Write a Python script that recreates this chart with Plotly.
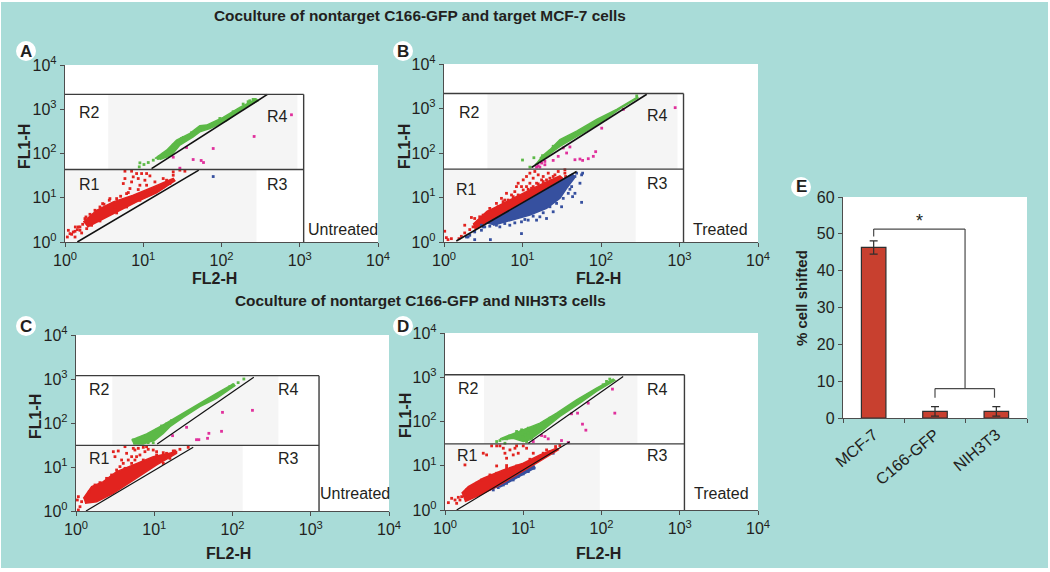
import numpy as np
import plotly.graph_objects as go

WIDTH = 1050
HEIGHT = 572
TEAL = "#a9dcd8"
INK = "#231f20"
AXIS = "#4d4d4d"
FONT = "Liberation Sans"

# flow cytometry readings, all stored as log10 of the channel value
# *_band_* are outlines of the solid clouds, the others the loose events around them

# panel A
a_green_band_x = [1.149, 1.298, 1.426, 1.596, 1.723, 1.809, 2.021, 2.234, 2.447, 2.468, 2.277, 2.064, 1.851, 1.723, 1.638, 1.468, 1.362, 1.213]
a_green_band_y = [1.887, 2.075, 2.302, 2.453, 2.626, 2.642, 2.815, 3.042, 3.230, 3.192, 3.019, 2.740, 2.566, 2.490, 2.377, 2.189, 1.962, 1.864]
a_green_x = [0.957, 1.009, 1.064, 0.949, 1.128, 1.191, 1.255, 1.362, 1.332, 1.489, 2.340, 2.404, 1.204, 1.277, 1.319, 1.383, 1.447, 1.511, 1.617, 1.723, 1.894, 1.979, 2.149, 2.277, 2.362, 2.426]
a_green_y = [1.789, 1.751, 1.796, 1.698, 1.849, 1.887, 1.985, 2.136, 2.060, 2.340, 3.170, 3.223, 1.925, 1.940, 2.038, 2.189, 2.264, 2.362, 2.468, 2.528, 2.679, 2.792, 2.943, 3.117, 3.192, 3.223]
a_red_band_x = [0.234, 0.404, 0.617, 0.872, 1.128, 1.383, 1.404, 1.170, 0.915, 0.660, 0.447, 0.285]
a_red_band_y = [0.453, 0.717, 0.906, 1.057, 1.245, 1.434, 1.381, 1.109, 0.906, 0.679, 0.491, 0.340]
a_red_x = [0.043, 0.064, 0.030, 0.106, 0.170, 0.128, 0.191, 0.255, 0.481, 0.574, 0.638, 0.745, 0.766, 0.851, 0.872, 0.915, 0.979, 1.043, 0.936, 1.085, 1.021, 0.957, 0.830, 0.787, 0.766, 0.851, 1.383, 1.468, 1.532, 1.298, 1.383,
           0.085, 0.128, 0.157, 0.191, 0.226, 0.132, 0.268, 0.319, 0.383, 0.447, 0.498, 0.566, 0.660, 0.711, 0.809, 0.936, 1.043, 1.149, 1.255, 0.447, 0.340, 0.277, 0.213, 0.660, 0.787, 0.957, 1.085, 1.255, 1.340]
a_red_y = [0.264, 0.189, 0.113, 0.226, 0.340, 0.113, 0.264, 0.528, 0.868, 0.981, 0.792, 1.321, 1.434, 1.358, 1.472, 1.547, 1.547, 1.547, 1.434, 1.494, 1.396, 1.283, 1.208, 1.094, 1.600, 1.600, 1.585, 1.623, 1.600, 1.396, 1.509,
           0.174, 0.242, 0.279, 0.340, 0.400, 0.340, 0.566, 0.626, 0.717, 0.792, 0.853, 0.943, 0.981, 1.034, 1.117, 1.185, 1.283, 1.358, 1.434, 0.475, 0.377, 0.302, 0.204, 0.657, 0.792, 0.943, 1.079, 1.245, 1.321]
a_pink_x = [2.894, 2.417, 1.894, 1.553, 1.383, 1.638, 1.740, 1.770, 1.468]
a_pink_y = [2.875, 2.385, 2.113, 2.136, 1.917, 1.864, 1.842, 1.796, 1.668]
a_blue_x = [1.894]
a_blue_y = [1.479]
a_diag_low_x = [0.157, 1.710]
a_diag_low_y = [0.000, 1.623]
a_diag_high_x = [1.106, 2.587]
a_diag_high_y = [1.660, 3.336]

# panel B
b_green_band_x = [1.221, 1.349, 1.477, 1.689, 1.945, 2.200, 2.455, 2.477, 2.243, 1.987, 1.732, 1.477, 1.306, 1.157]
b_green_band_y = [1.887, 2.075, 2.302, 2.491, 2.755, 2.981, 3.245, 3.245, 2.996, 2.679, 2.415, 2.151, 1.925, 1.736]
b_green_x = [1.000, 1.145, 1.255, 1.094, 1.391, 2.455, 1.860]
b_green_y = [1.842, 1.894, 1.940, 1.683, 2.151, 3.283, 2.604]
b_red_band_x = [0.370, 0.540, 0.753, 1.009, 1.221, 1.477, 1.511, 1.009, 0.583, 0.391]
b_red_band_y = [0.400, 0.679, 0.868, 1.094, 1.283, 1.487, 1.434, 0.906, 0.468, 0.279]
b_red_x = [0.009, 0.030, 0.051, 0.094, 0.349, 0.264, 0.455, 0.923, 0.945, 1.009, 1.051, 1.094, 1.157, 1.200, 1.264, 1.328, 1.391, 1.455, 1.540, 1.094, 1.179, 0.987, 0.796, 0.732, 0.774, 0.668, 0.583, 1.136, 1.243, 1.306, 1.051, 1.115, 0.902, 0.860, 1.391, 1.540, 1.549,
           0.391, 0.434, 0.498, 0.562, 0.626, 0.689, 0.753, 0.817, 0.881, 0.945, 1.009, 1.072, 1.136, 1.200, 1.264, 1.349, 1.413, 0.370, 0.328, 0.264, 0.221, 0.191]
b_red_y = [0.242, 0.098, 0.053, 0.075, 0.551, 0.377, 0.566, 1.245, 1.321, 1.396, 1.472, 1.547, 1.585, 1.509, 1.472, 1.547, 1.472, 1.585, 1.547, 1.321, 1.321, 1.245, 1.094, 0.981, 0.943, 0.868, 0.755, 1.434, 1.396, 1.396, 1.245, 1.208, 1.132, 1.057, 1.358, 1.623, 1.472,
           0.528, 0.453, 0.604, 0.679, 0.717, 0.792, 0.906, 0.943, 1.019, 1.057, 1.170, 1.185, 1.245, 1.306, 1.358, 1.434, 1.509, 0.340, 0.279, 0.204, 0.128, 0.075]
b_blue_band_x = [0.540, 1.009, 1.434, 1.638, 1.660, 1.562, 1.477, 1.306, 1.094, 0.838, 0.626]
b_blue_band_y = [0.415, 0.875, 1.321, 1.532, 1.434, 1.208, 0.981, 0.755, 0.604, 0.475, 0.377]
b_blue_x = [1.753, 1.668, 1.604, 1.638, 1.753, 1.766, 1.732, 1.498, 1.391, 1.306, 1.179, 1.072, 0.987, 0.591, 0.391, 0.306, 0.498, 0.477, 0.711, 0.838, 0.987, 1.221,
            0.519, 0.583, 0.668, 0.774, 0.902, 1.030, 1.136, 1.264, 1.349, 1.434, 1.519, 1.583, 1.626, 1.668, 1.689, 0.477, 0.391, 0.328, 0.285]
b_blue_y = [0.891, 1.094, 1.185, 1.019, 1.509, 1.547, 1.321, 0.792, 0.679, 0.528, 0.491, 0.491, 0.189, 0.053, 0.053, 0.113, 0.340, 0.264, 0.340, 0.377, 0.453, 0.566,
            0.340, 0.355, 0.377, 0.415, 0.430, 0.506, 0.581, 0.657, 0.792, 0.868, 0.981, 1.094, 1.245, 1.472, 1.547, 0.377, 0.226, 0.151, 0.113]
b_pink_x = [2.945, 2.009, 2.285, 1.932, 1.902, 1.838, 1.732, 1.766, 1.668, 1.562, 1.519, 1.604, 1.455, 1.391, 1.285, 1.243, 1.200, 1.221, 1.179, 1.285]
b_pink_y = [3.019, 2.558, 2.981, 2.030, 1.925, 1.872, 1.864, 1.834, 1.849, 2.000, 2.113, 2.136, 1.925, 1.834, 1.811, 1.774, 1.713, 1.683, 1.683, 1.736]
b_diag_low_x = [0.157, 1.689]
b_diag_low_y = [0.023, 1.585]
b_diag_high_x = [1.115, 2.583]
b_diag_high_y = [1.675, 3.321]

# panel C
c_green_band_x = [0.711, 0.902, 1.115, 1.328, 1.583, 1.796, 2.009, 2.030, 1.796, 1.583, 1.370, 1.200, 1.115, 1.009, 0.860, 0.732]
c_green_band_y = [1.614, 1.750, 1.955, 2.182, 2.447, 2.674, 2.886, 2.848, 2.561, 2.371, 2.129, 1.917, 1.765, 1.614, 1.523, 1.523]
c_green_x = [2.145, 2.072, 1.106, 1.051, 0.732, 0.796, 0.860, 0.945, 0.987, 0.923, 0.817, 0.753, 1.030, 1.094, 1.157, 1.221, 1.966, 2.009]
c_green_y = [3.000, 2.917, 1.917, 1.841, 1.614, 1.652, 1.689, 1.652, 1.553, 1.553, 1.553, 1.576, 1.841, 1.932, 1.977, 2.053, 2.826, 2.864]
c_red_band_x = [0.094, 0.200, 0.349, 0.519, 0.732, 0.987, 1.285, 1.285, 1.026, 0.732, 0.477, 0.264, 0.115]
c_red_band_y = [0.288, 0.553, 0.667, 0.894, 1.045, 1.235, 1.348, 1.311, 1.045, 0.705, 0.402, 0.212, 0.174]
c_red_x = [0.030, 0.051, 0.030, 0.072, 0.017, 0.477, 0.540, 0.498, 0.562, 0.604, 0.668, 0.711, 0.647, 0.753, 0.796, 0.860, 0.923, 0.881, 0.987, 1.030, 0.817, 0.753, 0.732, 0.902, 1.030, 1.115, 1.243, 1.434, 0.583, 0.774, 0.626,
           0.128, 0.170, 0.243, 0.306, 0.391, 0.455, 0.519, 0.626, 0.711, 0.860, 1.030, 1.157, 1.264, 1.328, 1.200, 1.115]
c_red_y = [0.326, 0.098, 0.023, 0.212, 0.250, 1.348, 1.364, 1.235, 1.008, 1.083, 1.159, 1.235, 1.311, 1.386, 1.424, 1.447, 1.402, 1.348, 1.386, 1.348, 1.273, 1.159, 1.424, 1.462, 1.197, 1.326, 1.364, 1.447, 1.159, 1.235, 1.462,
           0.311, 0.439, 0.591, 0.644, 0.742, 0.818, 0.932, 0.970, 1.083, 1.159, 1.273, 1.311, 1.364, 1.402, 1.197, 1.083]
c_pink_x = [2.255, 1.872, 1.860, 1.698, 1.681, 1.540, 1.570, 1.413, 1.234]
c_pink_y = [2.288, 2.242, 1.811, 1.765, 1.652, 1.621, 1.621, 1.902, 1.712]
c_diag_low_x = [0.128, 1.498]
c_diag_low_y = [0.000, 1.447]
c_diag_high_x = [1.038, 2.272]
c_diag_high_y = [1.523, 3.038]

# panel D
d_green_band_x = [0.702, 1.000, 1.213, 1.426, 1.681, 1.936, 2.149, 2.170, 1.936, 1.723, 1.468, 1.255, 1.085, 1.000, 0.872, 0.723]
d_green_band_y = [1.608, 1.811, 1.962, 2.189, 2.491, 2.755, 2.958, 2.928, 2.679, 2.415, 2.113, 1.811, 1.585, 1.547, 1.623, 1.585]
d_green_x = [0.660, 0.766, 1.000, 1.064, 1.106, 1.043, 1.149, 0.915, 2.021, 0.830, 0.915, 0.979, 1.064, 1.170, 1.277, 1.340, 0.702, 0.787, 1.106, 1.021, 1.149, 2.064, 2.106]
d_green_y = [1.547, 1.509, 1.660, 1.736, 1.623, 1.547, 1.774, 1.736, 2.830, 1.675, 1.774, 1.811, 1.849, 1.887, 2.000, 2.075, 1.570, 1.608, 1.774, 1.698, 1.849, 2.906, 2.958]
d_red_band_x = [0.213, 0.298, 0.489, 0.745, 1.000, 1.213, 1.426, 1.447, 1.170, 0.915, 0.660, 0.447, 0.255]
d_red_band_y = [0.377, 0.528, 0.717, 0.906, 1.057, 1.245, 1.396, 1.358, 1.057, 0.792, 0.528, 0.340, 0.189]
d_red_x = [0.043, 0.085, 0.128, 0.170, 0.149, 0.255, 0.489, 0.532, 0.660, 0.787, 0.766, 0.830, 0.894, 0.936, 0.872, 0.787, 0.596, 0.660, 0.702, 0.915, 1.000, 1.043, 0.745, 1.128, 1.298, 1.413, 1.468,
           0.277, 0.340, 0.404, 0.468, 0.574, 0.660, 0.787, 0.915, 1.085, 1.255, 1.340, 0.213, 0.255, 0.191]
d_red_y = [0.166, 0.264, 0.226, 0.287, 0.151, 1.019, 1.283, 1.245, 0.996, 1.004, 1.283, 1.358, 1.396, 1.283, 1.245, 1.170, 1.449, 1.449, 1.449, 1.449, 1.449, 1.396, 1.396, 1.283, 1.358, 1.434, 1.457,
           0.453, 0.528, 0.604, 0.679, 0.792, 0.830, 0.943, 0.996, 1.147, 1.283, 1.321, 0.302, 0.340, 0.226]
d_blue_band_x = [0.574, 0.830, 1.128, 1.149, 0.915, 0.702]
d_blue_band_y = [0.450, 0.720, 1.030, 0.950, 0.720, 0.520]
d_blue_x = [0.787, 1.136, 1.383, 0.617, 0.681, 0.745, 0.872, 0.936, 1.000, 1.064]
d_blue_y = [0.604, 0.943, 1.283, 0.453, 0.506, 0.566, 0.679, 0.755, 0.815, 0.868]
d_pink_x = [2.170, 2.140, 1.757, 1.800, 1.830, 1.694, 1.617, 1.277, 1.319, 1.234, 1.128, 1.489, 1.574]
d_pink_y = [2.189, 2.732, 1.940, 1.804, 2.415, 2.189, 2.174, 1.660, 1.608, 1.683, 1.547, 1.570, 1.525]
d_diag_low_x = [0.149, 1.596]
d_diag_low_y = [0.000, 1.540]
d_diag_high_x = [1.064, 2.277]
d_diag_high_y = [1.509, 3.019]

# gate limits as channel values
gate_top = [2168, 2168, 1191, 1140]
gate_mid = [43.4, 43.4, 31.0, 31.2]
gate_right = [1122, 1125, 1276, 1148]
grey_left = [3.57, 3.57, 2.91, 3.15]
grey_right = [933, 942, 386, 288]
grey_low_right = [280, 277, 135, 95]

# panel E
cells = ["MCF-7", "C166-GFP", "NIH3T3"]
shifted = [46.3, 1.8, 1.8]
shifted_err = [1.8, 1.3, 1.3]

decades = [1, 10, 100, 1000, 10000]
decade_labels = ["10<sup>0</sup>", "10<sup>1</sup>", "10<sup>2</sup>", "10<sup>3</sup>", "10<sup>4</sup>"]


def px_x(v):
    return v / WIDTH


def px_y(v):
    return 1 - v / HEIGHT


fig = go.Figure()
shapes = []
annotations = []


def note(x, y, text, size=16, bold=False, angle=0):
    annotations.append(dict(
        x=px_x(x), y=px_y(y), xref="paper", yref="paper",
        text=f"<b>{text}</b>" if bold else text,
        showarrow=False, textangle=angle,
        font=dict(family=FONT, size=size, color=INK),
        xanchor="center", yanchor="middle",
    ))


def add_dots(ax, ay, x, y, color, size=2.8):
    fig.add_trace(go.Scatter(
        x=10 ** np.array(x), y=10 ** np.array(y), xaxis=ax, yaxis=ay,
        mode="markers", marker=dict(color=color, size=size, symbol="square", line=dict(width=0)),
        showlegend=False, hoverinfo="skip",
    ))


def add_band(ax, ay, x, y, color):
    fig.add_trace(go.Scatter(
        x=10 ** np.array(x), y=10 ** np.array(y), xaxis=ax, yaxis=ay,
        mode="lines", fill="toself", fillcolor=color, line=dict(color=color, width=1.5),
        showlegend=False, hoverinfo="skip",
    ))


def add_diag(ax, ay, x, y, width=1.6):
    fig.add_trace(go.Scatter(
        x=10 ** np.array(x), y=10 ** np.array(y), xaxis=ax, yaxis=ay,
        mode="lines", line=dict(color="#111111", width=width),
        showlegend=False, hoverinfo="skip",
    ))


RED = "#e2231f"
GREEN = "#5cb947"
BLUE = "#36509f"
PINK = "#e0309c"

# pixel boxes of the panels: left, right, top, bottom
boxes = [(65, 378, 65, 242), (444, 758, 64, 242), (76, 389, 335, 511), (445, 758, 333, 510)]

for i, (left, right, top, bottom) in enumerate(boxes):
    n = i + 1
    axis_style = dict(
        type="log", tickmode="array", tickvals=decades, ticktext=decade_labels, automargin=False,
        range=[0, 4], showgrid=False, zeroline=False, showline=True, linecolor=AXIS, linewidth=1.4,
        ticks="outside", ticklen=4, tickwidth=1.2, tickcolor=AXIS,
        tickfont=dict(family=FONT, size=16, color=INK),
    )
    fig.update_layout({
        f"xaxis{n}": dict(axis_style, domain=[px_x(left), px_x(right)], anchor=f"y{n}"),
        f"yaxis{n}": dict(axis_style, domain=[px_y(bottom), px_y(top)], anchor=f"x{n}"),
    })
    xr, yr = f"x{n}", f"y{n}"
    # grey gate fills, then the gate outline
    shapes.append(dict(type="rect", xref=xr, yref=yr, x0=grey_left[i], x1=grey_right[i], y0=gate_mid[i], y1=gate_top[i],
                       fillcolor="#f5f5f5", line=dict(width=0), layer="below"))
    shapes.append(dict(type="rect", xref=xr, yref=yr, x0=1, x1=grey_low_right[i], y0=1, y1=gate_mid[i],
                       fillcolor="#f5f5f5", line=dict(width=0), layer="below"))
    line = dict(color="#3c3c3c", width=1.4)
    shapes.append(dict(type="line", xref=xr, yref=yr, x0=1, x1=gate_right[i], y0=gate_top[i], y1=gate_top[i], line=line))
    shapes.append(dict(type="line", xref=xr, yref=yr, x0=1, x1=gate_right[i], y0=gate_mid[i], y1=gate_mid[i], line=line))
    shapes.append(dict(type="line", xref=xr, yref=yr, x0=gate_right[i], x1=gate_right[i], y0=1, y1=gate_top[i], line=line))

# panel A
add_band("x1", "y1", a_green_band_x, a_green_band_y, GREEN)
add_dots("x1", "y1", a_green_x, a_green_y, GREEN)
add_band("x1", "y1", a_red_band_x, a_red_band_y, RED)
add_dots("x1", "y1", a_red_x, a_red_y, RED)
add_dots("x1", "y1", a_pink_x, a_pink_y, PINK)
add_dots("x1", "y1", a_blue_x, a_blue_y, BLUE)
add_diag("x1", "y1", a_diag_low_x, a_diag_low_y)
add_diag("x1", "y1", a_diag_high_x, a_diag_high_y)

# panel B
add_band("x2", "y2", b_green_band_x, b_green_band_y, GREEN)
add_dots("x2", "y2", b_green_x, b_green_y, GREEN)
add_band("x2", "y2", b_red_band_x, b_red_band_y, RED)
add_dots("x2", "y2", b_red_x, b_red_y, RED)
add_band("x2", "y2", b_blue_band_x, b_blue_band_y, BLUE)
add_dots("x2", "y2", b_blue_x, b_blue_y, BLUE)
add_dots("x2", "y2", b_pink_x, b_pink_y, PINK)
add_diag("x2", "y2", b_diag_low_x, b_diag_low_y)
add_diag("x2", "y2", b_diag_high_x, b_diag_high_y)

# panel C
add_band("x3", "y3", c_green_band_x, c_green_band_y, GREEN)
add_dots("x3", "y3", c_green_x, c_green_y, GREEN)
add_band("x3", "y3", c_red_band_x, c_red_band_y, RED)
add_dots("x3", "y3", c_red_x, c_red_y, RED)
add_dots("x3", "y3", c_pink_x, c_pink_y, PINK)
add_diag("x3", "y3", c_diag_low_x, c_diag_low_y, 1.2)
add_diag("x3", "y3", c_diag_high_x, c_diag_high_y, 1.2)

# panel D
add_band("x4", "y4", d_green_band_x, d_green_band_y, GREEN)
add_dots("x4", "y4", d_green_x, d_green_y, GREEN)
add_band("x4", "y4", d_blue_band_x, d_blue_band_y, BLUE)
add_dots("x4", "y4", d_blue_x, d_blue_y, BLUE)
add_band("x4", "y4", d_red_band_x, d_red_band_y, RED)
add_dots("x4", "y4", d_red_x, d_red_y, RED)
add_dots("x4", "y4", d_pink_x, d_pink_y, PINK)
add_diag("x4", "y4", d_diag_low_x, d_diag_low_y, 1.2)
add_diag("x4", "y4", d_diag_high_x, d_diag_high_y, 1.2)

# panel E
fig.add_trace(go.Bar(
    x=cells, y=shifted, xaxis="x5", yaxis="y5", width=0.4,
    marker=dict(color="#c8402f", line=dict(color="#2e2e2e", width=1.2)),
    error_y=dict(type="data", array=shifted_err, color="#2e2e2e", thickness=1.2, width=4),
    showlegend=False, hoverinfo="skip",
))
fig.update_layout(
    xaxis5=dict(
        domain=[px_x(843), px_x(1027)], anchor="y5", type="category", range=[-0.5, 2.5], automargin=False,
        tickson="boundaries", ticks="outside", ticklen=4, tickwidth=1.2, tickcolor=AXIS,
        showline=True, linecolor=AXIS, linewidth=1.4, showgrid=False, tickangle=-40,
        tickfont=dict(family=FONT, size=16, color=INK),
    ),
    yaxis5=dict(
        domain=[px_y(418), px_y(197)], anchor="x5", range=[0, 60], dtick=10, automargin=False,
        ticks="outside", ticklen=4, tickwidth=1.2, tickcolor=AXIS,
        showline=True, linecolor=AXIS, linewidth=1.4, showgrid=False, zeroline=False,
        tickfont=dict(family=FONT, size=16, color=INK),
    ),
)
bracket = dict(color="#4a4a4a", width=1.2)
for x0, y0, x1, y1 in [(0, 49.3, 0, 51.3), (0, 51.3, 1.49, 51.3), (1.49, 51.3, 1.49, 8.0),
                       (1, 8.0, 1.97, 8.0), (1, 8.0, 1, 5.5), (1.97, 8.0, 1.97, 5.5)]:
    shapes.append(dict(type="line", xref="x5", yref="y5", x0=x0, x1=x1, y0=y0, y1=y1, line=bracket))
annotations.append(dict(x=0.74, y=53.5, xref="x5", yref="y5", text="*", showarrow=False,
                        font=dict(family=FONT, size=18, color=INK)))

# white sliver around the teal page
for x0, x1, y0, y1 in [(0, 1, 0, HEIGHT), (1048, WIDTH, 0, HEIGHT), (0, WIDTH, 0, 2), (0, WIDTH, 568, HEIGHT)]:
    shapes.append(dict(type="rect", xref="paper", yref="paper", x0=px_x(x0), x1=px_x(x1), y0=px_y(y1), y1=px_y(y0),
                       fillcolor="white", line=dict(width=0), layer="above"))

# panel badges
for cx, cy, letter in [(26, 51, "A"), (403, 51, "B"), (26, 326, "C"), (403, 326, "D"), (801, 187, "E")]:
    shapes.append(dict(type="circle", xref="paper", yref="paper", x0=px_x(cx - 10), x1=px_x(cx + 10),
                       y0=px_y(cy + 10), y1=px_y(cy - 10), fillcolor="white", line=dict(width=0), layer="above"))
    note(cx, cy, letter, size=17, bold=True)

# titles
note(420, 15, "Coculture of nontarget C166-GFP and target MCF-7 cells", size=15.4, bold=True)
note(420, 300, "Coculture of nontarget C166-GFP and NIH3T3 cells", size=15.4, bold=True)

# axis titles
for x, y in [(214, 278), (598, 278), (228, 553), (598, 553)]:
    note(x, y, "FL2-H", size=16, bold=True)
for x, y in [(24, 147), (404, 147), (35, 417), (405, 416)]:
    note(x, y, "FL1-H", size=16, bold=True, angle=-90)
note(801, 298, "% cell shifted", size=15, bold=True, angle=-90)

# region labels
for x, y, text in [
    (89, 113, "R2"), (277, 116, "R4"), (89, 184, "R1"), (277, 184, "R3"), (343, 229, "Untreated"),
    (469, 113, "R2"), (657, 115, "R4"), (466, 189, "R1"), (657, 183, "R3"), (720, 229, "Treated"),
    (99, 389, "R2"), (288, 389, "R4"), (99, 458, "R1"), (288, 458, "R3"), (355, 493, "Untreated"),
    (468, 388, "R2"), (657, 390, "R4"), (467, 455, "R1"), (657, 455, "R3"), (721, 493, "Treated"),
]:
    note(x, y, text)

fig.update_layout(
    width=WIDTH, height=HEIGHT, margin=dict(l=0, r=0, t=0, b=0, pad=0),
    paper_bgcolor=TEAL, plot_bgcolor="white",
    font=dict(family=FONT, color=INK), showlegend=False,
    shapes=shapes, annotations=annotations,
)

fig.write_html(
    "out.html",
    config={"displayModeBar": False},
    post_script="document.body.style.margin='0';document.body.style.overflow='hidden';",
)
